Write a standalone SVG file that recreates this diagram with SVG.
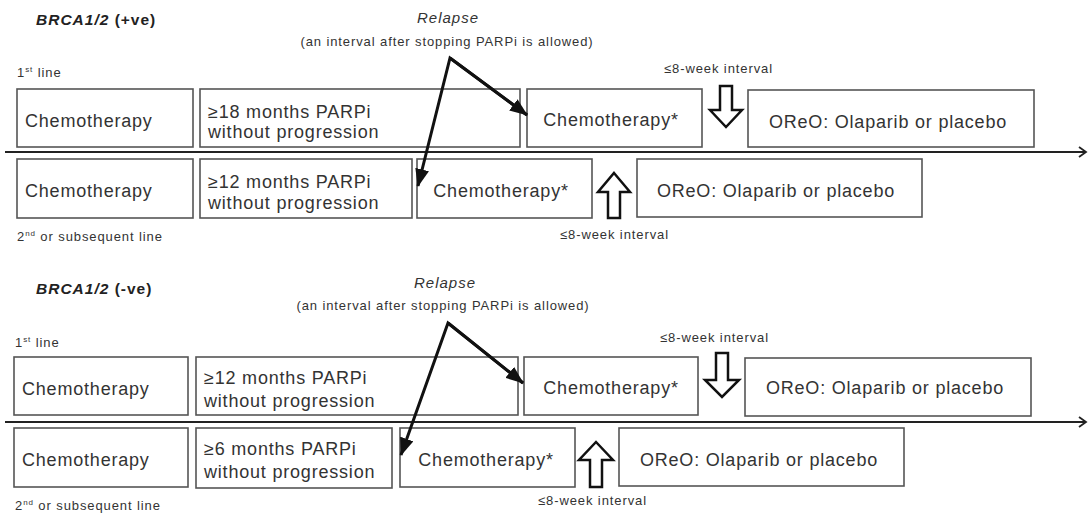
<svg xmlns="http://www.w3.org/2000/svg" width="1089" height="514" viewBox="0 0 1089 514">
<style>
text{font-family:"Liberation Sans",Arial,sans-serif;fill:#333}
.box{fill:#fff;stroke:#555;stroke-width:1.6}
.t{font-size:18px;letter-spacing:0.8px}
.s{font-size:13px;letter-spacing:0.9px}
.h{font-size:15.5px;font-weight:bold;letter-spacing:1px;fill:#222}
.rel{font-size:15px;font-style:italic;letter-spacing:1px}
.m{text-anchor:middle}
.rl{fill:none;stroke:#111;stroke-width:3}
.tl{fill:none;stroke:#222;stroke-width:2.2}
.blk{fill:#fff;stroke:#111;stroke-width:2.5;stroke-linejoin:miter}
</style>
<defs>
<marker id="ah" markerUnits="userSpaceOnUse" markerWidth="18" markerHeight="14" refX="17" refY="7" orient="auto">
<path d="M0,0 L18,7 L0,14 Z" fill="#111"/>
</marker>
<marker id="ch" markerUnits="userSpaceOnUse" markerWidth="10" markerHeight="12" refX="8" refY="6" orient="auto">
<path d="M1,1 L8,6 L1,11" fill="none" stroke="#222" stroke-width="1.8"/>
</marker>
</defs>

<!-- Section 1 labels -->
<text class="h" x="36" y="25"><tspan font-style="italic">BRCA1/2</tspan> (+ve)</text>
<text class="rel m" x="448" y="23">Relapse</text>
<text class="s m" x="447" y="46">(an interval after stopping PARPi is allowed)</text>
<text class="s" x="17" y="77">1<tspan font-size="8" dy="-5">st</tspan><tspan dy="5"> line</tspan></text>
<text class="s" x="664" y="73">≤8-week interval</text>
<text class="s" x="17" y="241">2<tspan font-size="8" dy="-5">nd</tspan><tspan dy="5"> or subsequent line</tspan></text>
<text class="s" x="560" y="239">≤8-week interval</text>

<!-- Section 2 labels -->
<text class="h" x="36" y="294"><tspan font-style="italic">BRCA1/2</tspan> (-ve)</text>
<text class="rel m" x="445" y="288">Relapse</text>
<text class="s m" x="443" y="310">(an interval after stopping PARPi is allowed)</text>
<text class="s" x="15" y="347">1<tspan font-size="8" dy="-5">st</tspan><tspan dy="5"> line</tspan></text>
<text class="s" x="660" y="342">≤8-week interval</text>
<text class="s" x="15" y="510">2<tspan font-size="8" dy="-5">nd</tspan><tspan dy="5"> or subsequent line</tspan></text>
<text class="s" x="538" y="505">≤8-week interval</text>

<!-- Section 1, row 1 -->
<g id="n1-chemo"><rect class="box" x="17" y="89" width="176" height="58"/><text class="t" x="25" y="127">Chemotherapy</text></g>
<g id="n1-parpi"><rect class="box" x="200" y="89" width="320" height="58"/><text class="t" x="208" y="118">≥18 months PARPi</text><text class="t" x="208" y="138">without progression</text></g>
<g id="n1-chemo2"><rect class="box" x="527" y="89" width="175" height="58"/><text class="t m" x="611" y="126">Chemotherapy*</text></g>
<g id="n1-oreo"><rect class="box" x="748" y="90" width="286" height="57"/><text class="t m" x="888" y="128">OReO: Olaparib or placebo</text></g>

<!-- Section 1, row 2 -->
<g id="n2-chemo"><rect class="box" x="17" y="159" width="176" height="59"/><text class="t" x="25" y="197">Chemotherapy</text></g>
<g id="n2-parpi"><rect class="box" x="200" y="159" width="212" height="59"/><text class="t" x="208" y="188">≥12 months PARPi</text><text class="t" x="208" y="209">without progression</text></g>
<g id="n2-chemo2"><rect class="box" x="417" y="159" width="175" height="59"/><text class="t m" x="501" y="197">Chemotherapy*</text></g>
<g id="n2-oreo"><rect class="box" x="637" y="159" width="285" height="58"/><text class="t m" x="776" y="197">OReO: Olaparib or placebo</text></g>

<!-- Section 2, row 1 -->
<g id="n3-chemo"><rect class="box" x="14" y="357" width="174" height="58"/><text class="t" x="22" y="395">Chemotherapy</text></g>
<g id="n3-parpi"><rect class="box" x="196" y="357" width="322" height="58"/><text class="t" x="204" y="384">≥12 months PARPi</text><text class="t" x="204" y="407">without progression</text></g>
<g id="n3-chemo2"><rect class="box" x="524" y="357" width="174" height="58"/><text class="t m" x="611" y="394">Chemotherapy*</text></g>
<g id="n3-oreo"><rect class="box" x="745" y="358" width="286" height="58"/><text class="t m" x="885" y="394">OReO: Olaparib or placebo</text></g>

<!-- Section 2, row 2 -->
<g id="n4-chemo"><rect class="box" x="14" y="428" width="174" height="59"/><text class="t" x="22" y="466">Chemotherapy</text></g>
<g id="n4-parpi"><rect class="box" x="196" y="428" width="196" height="60"/><text class="t" x="204" y="455">≥6 months PARPi</text><text class="t" x="204" y="478">without progression</text></g>
<g id="n4-chemo2"><rect class="box" x="400" y="428" width="175" height="59"/><text class="t m" x="486" y="466">Chemotherapy*</text></g>
<g id="n4-oreo"><rect class="box" x="619" y="428" width="285" height="58"/><text class="t m" x="759" y="466">OReO: Olaparib or placebo</text></g>

<!-- Connectors (drawn on top of the boxes) -->
<g id="connectors">
<line class="tl" x1="5" y1="152" x2="1086" y2="152" marker-end="url(#ch)"/>
<line class="tl" x1="5" y1="422" x2="1086" y2="422" marker-end="url(#ch)"/>
<polyline class="rl" points="527,115 450,58 418,186" marker-end="url(#ah)"/>
<line class="rl" x1="450" y1="58" x2="527" y2="115" marker-end="url(#ah)"/>
<polyline class="rl" points="523,383 448,323 401,455" marker-end="url(#ah)"/>
<line class="rl" x1="448" y1="323" x2="523" y2="383" marker-end="url(#ah)"/>
<path class="blk" d="M720,86 H732 V110 H742 L726,127 L710,110 H720 Z"/>
<path class="blk" d="M614,173 L630,192 H620 V218 H608 V192 H598 Z"/>
<path class="blk" d="M716,353 H728 V380 H739 L722,397 L705,380 H716 Z"/>
<path class="blk" d="M596,442 L613,460 H602 V487 H590 V460 H579 Z"/>
</g>
</svg>
